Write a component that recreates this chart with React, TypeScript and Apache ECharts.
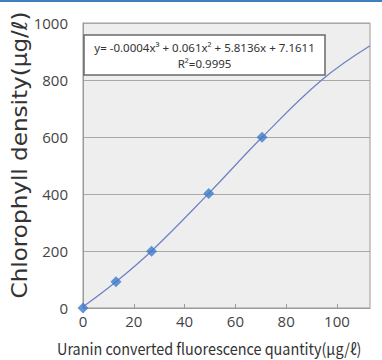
import React, { useEffect, useRef } from "react";
import * as echarts from "echarts";

const pointX = [0, 13, 27, 49.5, 70.5];
const pointY = [0, 92, 199, 402, 599];
const trendX = [0, 13, 27, 49.5, 70.5, 94, 113];
const trendY = [4, 92, 200, 402, 599, 800, 920];
const xTicks = [0, 20, 40, 60, 80, 100];
const yTicks = [0, 200, 400, 600, 800, 1000];
const equationLine = "y= -0.0004x³ + 0.061x² + 5.8136x + 7.1611";
const r2Line = "R²=0.9995";
const xTitle = "Uranin converted fluorescence quantity(μg/ℓ)";
const yTitle = "Chlorophyll density(μg/ℓ)";

const FONT = "'Noto Sans CJK JP', 'Noto Sans', sans-serif";
const NUM_FONT = "'Open Sans', 'Noto Sans', sans-serif";
const WIDE_FONT = "'DejaVu Sans', 'Noto Sans', sans-serif";

export default function App() {
  const ref = useRef<HTMLDivElement>(null);
  useEffect(() => {
    document.body.style.margin = "0";
    const chart = echarts.init(ref.current!, null, { renderer: "svg" });
    chart.setOption({
      animation: false,
      backgroundColor: "#ffffff",
      textStyle: { fontFamily: FONT },
      grid: {
        left: 83,
        top: 23,
        right: 12,
        bottom: 52,
        show: true,
        backgroundColor: "#eeeeee",
        borderColor: "#9a9a9a",
        borderWidth: 1,
      },
      xAxis: {
        type: "value",
        min: 0,
        max: 113,
        interval: 20,
        axisLine: { show: true, lineStyle: { color: "#9a9a9a" } },
        axisTick: { show: true, inside: true, length: 4, lineStyle: { color: "#9a9a9a" } },
        splitLine: { show: false },
        axisLabel: {
          showMaxLabel: false,
          margin: 5,
          color: "#444",
          fontSize: 15,
          fontFamily: NUM_FONT,
          formatter: (v: number) => (xTicks.includes(v) ? String(v) : ""),
        },
      },
      yAxis: {
        type: "value",
        min: 0,
        max: 1000,
        interval: 200,
        axisLine: { show: true, lineStyle: { color: "#9a9a9a" } },
        axisTick: { show: false },
        splitLine: { show: true, lineStyle: { color: "#a8a8a8", width: 1 } },
        axisLabel: {
          margin: 15,
          color: "#444",
          fontSize: 15,
          fontFamily: NUM_FONT,
          formatter: (v: number) => (yTicks.includes(v) ? String(v) : ""),
        },
      },
      series: [
        {
          type: "line",
          data: trendX.map((x, i) => [x, trendY[i]]),
          smooth: 0.4,
          showSymbol: false,
          symbol: "none",
          lineStyle: { color: "#6b7fc4", width: 1.2 },
          z: 2,
        },
        {
          type: "scatter",
          data: pointX.map((x, i) => [x, pointY[i]]),
          symbol: "diamond",
          symbolSize: [11, 11],
          itemStyle: { color: "#3d7acb" },
          z: 3,
        },
      ],
      graphic: [
        {
          type: "rect",
          left: 0,
          top: 0,
          shape: { width: 382, height: 2 },
          style: { fill: "#3f7fc0" },
        },
        {
          type: "rect",
          x: 84,
          y: 35,
          shape: { width: 241, height: 40 },
          style: { fill: "#ffffff", stroke: "#6a6a6a", lineWidth: 1.5 },
          z: 10,
        },
        {
          type: "text",
          x: 204.5,
          y: 47,
          z: 11,
          style: {
            text: equationLine,
            fill: "#333",
            font: `11.5px 'Noto Sans', sans-serif`,
            align: "center",
            verticalAlign: "middle",
          },
        },
        {
          type: "text",
          x: 204.5,
          y: 63,
          z: 11,
          style: {
            text: r2Line,
            fill: "#333",
            font: `11.5px 'Noto Sans', sans-serif`,
            align: "center",
            verticalAlign: "middle",
          },
        },
        {
          type: "text",
          x: 57,
          y: 348,
          scaleX: 0.9,
          style: {
            text: xTitle,
            fill: "#333",
            font: `16px ${FONT}`,
            align: "left",
            verticalAlign: "middle",
          },
        },
        {
          type: "text",
          x: 20,
          y: 155,
          rotation: Math.PI / 2,
          scaleX: 1.1,
          style: {
            text: yTitle,
            fill: "#333",
            font: `21px ${WIDE_FONT}`,
            align: "center",
            verticalAlign: "middle",
          },
        },
      ],
    });
    return () => chart.dispose();
  }, []);
  return <div ref={ref} style={{ width: 382, height: 360 }} />;
}
